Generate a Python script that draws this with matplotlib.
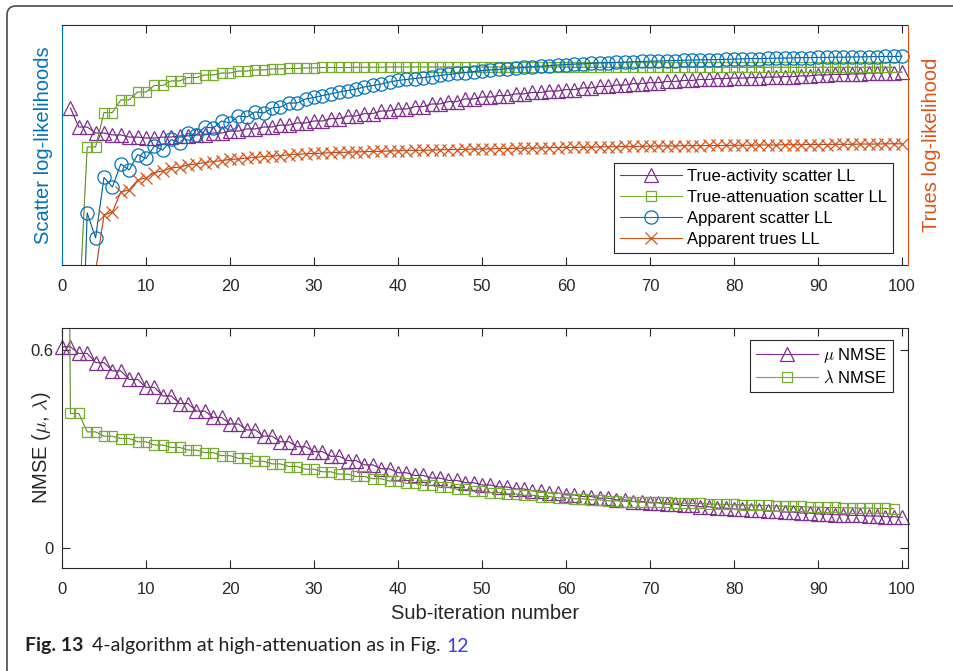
import numpy as np
import matplotlib
matplotlib.use("Agg")
import matplotlib.pyplot as plt
from matplotlib.lines import Line2D
from matplotlib.patches import FancyBboxPatch
from matplotlib.transforms import IdentityTransform

# ---- data (top panel in relative log-likelihood units, 0..100) ----
x_act = np.arange(1, 101)
act_ll = [65.4, 57.5, 57.5, 55.0, 55.0, 54.2, 54.2, 53.3, 53.3, 52.9, 52.9, 53.3, 53.3, 53.8, 53.8,
          54.2, 54.2, 55.0, 55.0, 55.8, 55.8, 56.7, 56.7, 57.5, 57.5, 58.3, 58.3, 59.2, 59.2, 60.0,
          60.0, 61.0, 61.0, 62.1, 62.1, 63.1, 63.1, 64.2, 64.2, 65.0, 65.0, 66.0, 66.0, 67.1, 67.1,
          68.1, 68.1, 69.2, 69.2, 70.0, 70.0, 70.6, 70.6, 71.3, 71.3, 71.9, 71.9, 72.5, 72.5, 73.1,
          73.1, 73.8, 73.8, 74.4, 74.4, 75.0, 75.0, 75.6, 75.6, 76.0, 76.0, 76.5, 76.5, 76.9, 76.9,
          77.3, 77.3, 77.7, 77.7, 77.9, 77.9, 78.1, 78.1, 78.3, 78.3, 78.5, 78.5, 78.8, 78.8, 79.2,
          79.2, 79.4, 79.4, 79.6, 79.6, 80.0, 80.0, 80.2, 80.2, 80.4]

x_att = np.arange(0, 100)
att_ll = [-40, -21, -21, 49.2, 49.2, 63.5, 63.5, 68.8, 68.8, 72.1, 72.1, 74.8, 74.8, 76.7, 76.7,
          78.1, 78.1, 79.2, 79.2, 80.0, 80.0, 80.8, 80.8, 81.3, 81.3, 81.7, 81.7, 81.9, 81.9, 82.1,
          82.1, 82.3, 82.3, 82.3, 82.3, 82.4, 82.4, 82.4, 82.4, 82.5, 82.5,
          82.5, 82.5, 82.5, 82.5, 82.5, 82.5, 82.5, 82.5, 82.5, 82.5,
          82.5, 82.5, 82.5, 82.5, 82.5, 82.5, 82.5, 82.5, 82.5, 82.5,
          82.4, 82.4, 82.4, 82.4, 82.4, 82.4, 82.4, 82.4, 82.4, 82.4,
          82.4, 82.4, 82.4, 82.4, 82.4, 82.4, 82.4, 82.4, 82.4, 82.4,
          82.4, 82.4, 82.4, 82.4, 82.4, 82.4, 82.4, 82.4, 82.4, 82.4,
          82.4, 82.4, 82.4, 82.4, 82.4, 82.4, 82.4, 82.4, 82.4]

x_app = np.arange(1, 101)
app_ll = [-120, -85, 21.7, 11.3, 36.5, 32.5, 42.1, 39.6, 46.0, 44.4, 49.6, 47.9, 52.3, 50.8, 54.8,
          54.2, 57.5, 57.1, 60.0, 59.2, 62.1, 61.7, 63.8, 63.3, 65.4, 65.8, 67.5, 67.5, 69.2, 69.8,
          70.6, 71.3, 72.1, 72.7, 73.3, 74.2, 74.8, 75.4, 76.3, 76.9, 77.3, 77.7, 78.1, 78.5, 79.0,
          79.4, 79.8, 80.2, 80.6, 81.0, 81.3, 81.5, 81.8, 82.1, 82.3, 82.6, 82.8, 83.1, 83.3, 83.5,
          83.7, 83.8, 84.0, 84.2, 84.3, 84.4, 84.5, 84.7, 84.8, 84.9, 85.0, 85.1, 85.2, 85.3, 85.4,
          85.5, 85.5, 85.6, 85.7, 85.8, 85.9, 86.0, 86.0, 86.1, 86.2, 86.2, 86.3, 86.4, 86.4, 86.5,
          86.5, 86.6, 86.6, 86.7, 86.7, 86.8, 86.8, 86.9, 86.9, 87.0]

x_tru = np.arange(1, 101)
trues_ll = [-90, -60, -30, -2.5, 20.8, 22.1, 30.4, 31.3, 35.4, 36.3, 38.5, 39.2, 40.4, 40.8, 41.7,
            42.1, 42.7, 43.1, 43.5, 44.0, 44.2, 44.6, 44.8, 45.2, 45.4, 45.6, 45.9, 46.1, 46.3, 46.5,
            46.6, 46.8, 46.9, 47.0, 47.1, 47.2, 47.3, 47.4, 47.5, 47.6, 47.7, 47.8, 47.8, 47.9, 48.0,
            48.1, 48.1, 48.2, 48.3, 48.3, 48.4, 48.5, 48.5, 48.6, 48.7, 48.7, 48.8, 48.9, 48.9, 49.0,
            49.0, 49.1, 49.1, 49.2, 49.3, 49.3, 49.4, 49.4, 49.5, 49.5, 49.6, 49.6, 49.6, 49.7, 49.7,
            49.7, 49.8, 49.8, 49.8, 49.9, 49.9, 49.9, 50.0, 50.0, 50.0, 50.1, 50.1, 50.1, 50.2, 50.2,
            50.2, 50.3, 50.3, 50.3, 50.4, 50.4, 50.4, 50.5, 50.5, 50.5]

# ---- bottom panel: NMSE ----
x_mu = np.arange(0, 101)
mu_nmse = [0.610, 0.610, 0.590, 0.590, 0.562, 0.562, 0.537, 0.537, 0.511, 0.511, 0.487, 0.487,
           0.461, 0.461, 0.438, 0.438, 0.415, 0.415, 0.396, 0.396, 0.376, 0.376, 0.358, 0.358,
           0.339, 0.339, 0.322, 0.322, 0.307, 0.307, 0.292, 0.292, 0.278, 0.278, 0.265, 0.265,
           0.252, 0.252, 0.240, 0.240, 0.228, 0.228, 0.220, 0.220, 0.212, 0.212, 0.205, 0.205,
           0.198, 0.198, 0.191, 0.191, 0.185, 0.185, 0.179, 0.179, 0.173, 0.173, 0.167, 0.167,
           0.161, 0.161, 0.156, 0.156, 0.151, 0.151, 0.146, 0.146, 0.141, 0.141, 0.137, 0.137,
           0.133, 0.133, 0.129, 0.129, 0.125, 0.125, 0.121, 0.121, 0.118, 0.118, 0.115, 0.115,
           0.112, 0.112, 0.109, 0.109, 0.106, 0.106, 0.103, 0.103, 0.101, 0.101, 0.099, 0.099,
           0.097, 0.097, 0.095, 0.095, 0.093]

x_lam = np.arange(0, 100)
lam_nmse = [4.0, 0.408, 0.408, 0.352, 0.352, 0.339, 0.339, 0.332, 0.332, 0.322, 0.322, 0.312, 0.312,
            0.305, 0.305, 0.297, 0.297, 0.289, 0.289, 0.280, 0.280, 0.272, 0.272, 0.263, 0.263,
            0.255, 0.255, 0.247, 0.247, 0.239, 0.239, 0.231, 0.231, 0.224, 0.224, 0.217, 0.217,
            0.210, 0.210, 0.203, 0.203, 0.196, 0.196, 0.190, 0.190, 0.184, 0.184, 0.178, 0.178,
            0.172, 0.172, 0.168, 0.168, 0.164, 0.164, 0.160, 0.160, 0.156, 0.156, 0.152, 0.152,
            0.149, 0.149, 0.146, 0.146, 0.143, 0.143, 0.141, 0.141, 0.139, 0.139, 0.138, 0.138,
            0.136, 0.136, 0.135, 0.135, 0.133, 0.133, 0.132, 0.132, 0.130, 0.130, 0.129, 0.129,
            0.127, 0.127, 0.126, 0.126, 0.124, 0.124, 0.123, 0.123, 0.122, 0.122, 0.121, 0.121,
            0.120, 0.120, 0.119]

xticks = list(range(0, 101, 10))

BLUE = "#0072BD"
ORANGE = "#D95319"
PURPLE = "#7E2F8E"
GREEN = "#77AC30"
AXC = "#262626"

plt.rcParams["font.family"] = ["Liberation Sans", "DejaVu Sans"]
plt.rcParams["mathtext.fontset"] = "cm"

W, H = 954, 671
fig = plt.figure(figsize=(W / 100, H / 100), dpi=100)

# rounded frame around the figure (cut off at right/bottom like the page crop)
fig.add_artist(FancyBboxPatch((7, -30), 1000, H - 6 + 30,
                              boxstyle="round,pad=0,rounding_size=9",
                              transform=IdentityTransform(), fc="none",
                              ec="#4a4a4a", lw=1.2))

ax1 = fig.add_axes([62 / W, 1 - 265 / H, 846 / W, 240 / H])
ax3 = fig.add_axes([62 / W, 1 - 568 / H, 846 / W, 240 / H])

MS = {"^": 9.5, "s": 7, "o": 9.5, "x": 9}


def series(ax, x, y, color, marker, lo, hi):
    y = np.asarray(y, float)
    x = np.asarray(x, float)
    ax.plot(x, y, color=color, lw=0.8)
    ax.plot(x, y, color="#333333", lw=0.5, ls=":")
    keep = (y >= lo) & (y <= hi)
    ax.plot(x[keep], y[keep], ls="none", marker=marker, ms=MS[marker], mfc="none",
            mec=color, mew=0.9, clip_on=False)


def handle(color, marker):
    return Line2D([], [], color=color, lw=0.8, marker=marker, ms=MS[marker],
                  mfc="none", mew=0.9)


# ---- top panel ----
ax1.set_xlim(0, 100.7)
ax1.set_ylim(0, 100)
series(ax1, x_act, act_ll, PURPLE, "^", 0, 100)
series(ax1, x_att, att_ll, GREEN, "s", 0, 100)
series(ax1, x_app, app_ll, BLUE, "o", 0, 100)

ax2 = ax1.twinx()
ax2.set_ylim(0, 100)
series(ax2, x_tru, trues_ll, ORANGE, "x", 0, 100)

for a in (ax1, ax2):
    a.set_yticks([])
    for s in a.spines.values():
        s.set_linewidth(0.8)
        s.set_color(AXC)
ax1.spines["left"].set_color(BLUE)
ax1.spines["right"].set_visible(False)
ax2.spines["right"].set_color(ORANGE)
for s in ("left", "top", "bottom"):
    ax2.spines[s].set_visible(False)

ax1.set_xticks(xticks)
ax1.tick_params(axis="x", direction="in", top=True, length=6, width=0.8,
                labelsize=12, colors=AXC, pad=10)
ax1.set_ylabel("Scatter log-likelihoods", color=BLUE, fontsize=14.5)
ax1.yaxis.set_label_coords(-0.0106, 0.5)
ax2.set_ylabel("Trues log-likelihood", color=ORANGE, fontsize=14.5, labelpad=10)

h_top = [handle(PURPLE, "^"), handle(GREEN, "s"), handle(BLUE, "o"), handle(ORANGE, "x")]
lab_top = ["True-activity scatter LL", "True-attenuation scatter LL",
           "Apparent scatter LL", "Apparent trues LL"]
leg = ax2.legend(h_top, lab_top, loc="lower right", bbox_to_anchor=(0.982, 0.05),
                 fontsize=12, handlelength=3.7, handletextpad=0.3, labelspacing=0.36,
                 borderpad=0.35, borderaxespad=0, fancybox=False, framealpha=1,
                 edgecolor=AXC)
leg.get_frame().set_linewidth(0.8)

# ---- bottom panel ----
ax3.set_xlim(0, 100.7)
ax3.set_ylim(-0.0606, 0.667)
series(ax3, x_mu, mu_nmse, PURPLE, "^", -0.0606, 0.667)
series(ax3, x_lam, lam_nmse, GREEN, "s", -0.0606, 0.667)
ax3.set_xticks(xticks)
ax3.set_yticks([0, 0.6])
ax3.set_yticklabels(["0", "0.6"])
ax3.tick_params(direction="in", top=True, right=True, length=6, width=0.8,
                labelsize=12, colors=AXC)
ax3.tick_params(axis="x", pad=10)
ax3.tick_params(axis="y", pad=6)
for s in ax3.spines.values():
    s.set_linewidth(0.8)
    s.set_color(AXC)
ax3.set_xlabel("Sub-iteration number", fontsize=14.5, color=AXC, labelpad=5)
ax3.set_ylabel(r"NMSE ($\mu$, $\lambda$)", fontsize=14.5, color=AXC)
ax3.yaxis.set_label_coords(-0.0106, 0.5)

h_bot = [handle(PURPLE, "^"), handle(GREEN, "s")]
leg2 = ax3.legend(h_bot, [r"$\mu$ NMSE", r"$\lambda$ NMSE"], loc="upper right",
                  bbox_to_anchor=(0.982, 0.95), fontsize=12, handlelength=3.7,
                  handletextpad=0.3, labelspacing=0.28, borderpad=0.35, borderaxespad=0,
                  fancybox=False, framealpha=1, edgecolor=AXC)
leg2.get_frame().set_linewidth(0.8)

# ---- caption ----
cap_y = 1 - 646 / H
r = fig.canvas.get_renderer()
t1 = fig.text(25 / W, cap_y, "Fig. 13", fontsize=14, fontweight="bold",
              family=["Lato", "DejaVu Sans"], color="#231f20", va="center")
bb = t1.get_window_extent(r)
t2 = fig.text((bb.x1 + 9) / W, cap_y, "4-algorithm at high-attenuation as in Fig.",
              fontsize=14, family=["Lato", "DejaVu Sans"], color="#231f20", va="center")
bb = t2.get_window_extent(r)
fig.text((bb.x1 + 5) / W, cap_y, "12", fontsize=14, family=["Lato", "DejaVu Sans"],
         color="#3a3af0", va="center")

fig.savefig("out.png", dpi=100)
